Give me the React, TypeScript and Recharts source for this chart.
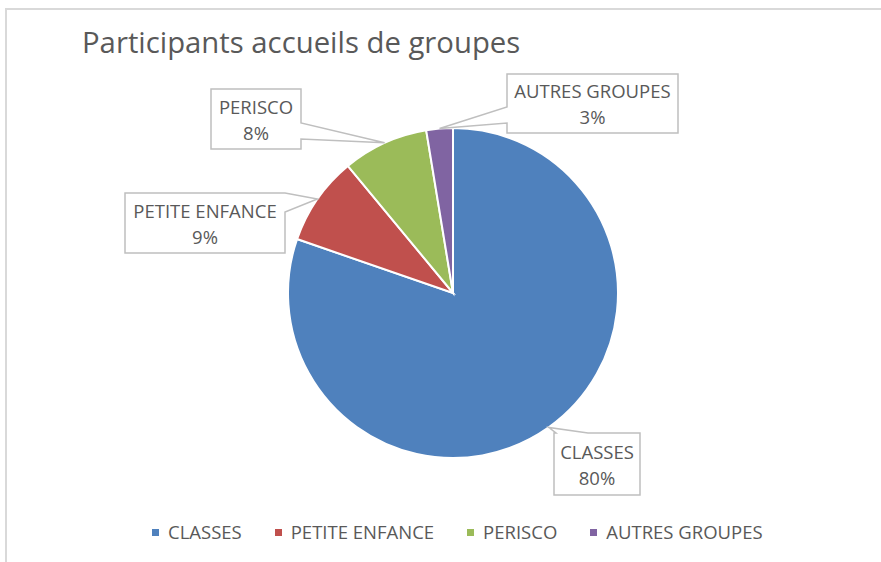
import { PieChart, Pie, Cell, Legend } from 'recharts';

const categories = ['CLASSES', 'PETITE ENFANCE', 'PERISCO', 'AUTRES GROUPES'];
const values = [80.3, 8.7, 8.4, 2.6];
const colors = ['#4f81bd', '#c0504d', '#9bbb59', '#8064a2'];

// callout boxes, relative to the pie centre
const boxes = [
  { dx: 101, dy: 140, w: 86, h: 62, side: 'top', a: 2, b: 34 },
  { dx: -328, dy: -100, w: 160, h: 60, side: 'right', a: 0, b: 19 },
  { dx: -242, dy: -204, w: 90, h: 60, side: 'right', a: 34, b: 50 },
  { dx: 54, dy: -219, w: 171, h: 59, side: 'left', a: 33, b: 49 },
];

const data = categories.map((name, i) => ({ name, value: values[i] }));

const FONT = '"Open Sans", sans-serif';
const TEXT = '#595959';
const RAD = Math.PI / 180;

function calloutPath(x: number, y: number, w: number, h: number, side: string, a: number, b: number, tx: number, ty: number) {
  if (side === 'top')
    return `M${x},${y} L${x + a},${y} L${tx},${ty} L${x + b},${y} L${x + w},${y} L${x + w},${y + h} L${x},${y + h} Z`;
  if (side === 'right')
    return `M${x},${y} L${x + w},${y} L${x + w},${y + a} L${tx},${ty} L${x + w},${y + b} L${x + w},${y + h} L${x},${y + h} Z`;
  return `M${x},${y} L${x + w},${y} L${x + w},${y + h} L${x},${y + h} L${x},${y + b} L${tx},${ty} L${x},${y + a} Z`;
}

const renderLabel = (props: any) => {
  const { cx, cy, midAngle, outerRadius, index, percent, name } = props;
  const box = boxes[index];
  const tx = cx + Math.cos(-midAngle * RAD) * outerRadius;
  const ty = cy + Math.sin(-midAngle * RAD) * outerRadius;
  const x = cx + box.dx;
  const y = cy + box.dy;
  const mx = x + box.w / 2;
  const my = y + box.h / 2;
  return (
    <g>
      <path
        d={calloutPath(x, y, box.w, box.h, box.side, box.a, box.b, tx, ty)}
        fill="#fff"
        stroke="#bfbfbf"
        strokeWidth={1.5}
      />
      <text x={mx} y={my - 13} textAnchor="middle" dominantBaseline="central" fill={TEXT} fontSize={18.5} fontFamily={FONT}>
        {name}
      </text>
      <text x={mx} y={my + 13} textAnchor="middle" dominantBaseline="central" fill={TEXT} fontSize={18.5} fontFamily={FONT}>
        {Math.round(percent * 100)}%
      </text>
    </g>
  );
};

const renderLegend = () => (
  <div style={{ display: 'flex', gap: 33, fontFamily: FONT, fontSize: 18.5, color: TEXT, lineHeight: '24px' }}>
    {categories.map((name, i) => (
      <div key={name} style={{ display: 'flex', alignItems: 'center' }}>
        <span style={{ width: 7, height: 7, background: colors[i], marginRight: 9, display: 'inline-block' }} />
        <span>{name}</span>
      </div>
    ))}
  </div>
);

export default function App() {
  return (
    <div style={{ position: 'absolute', left: 0, top: 0, width: 881, height: 562, background: '#fff', overflow: 'hidden' }}>
      <div
        style={{
          position: 'absolute',
          left: 5,
          top: 8,
          width: 900,
          height: 600,
          borderTop: '2px solid #d9d9d9',
          borderLeft: '2px solid #d9d9d9',
        }}
      />
      <div
        style={{
          position: 'absolute',
          left: 82,
          top: 22,
          fontFamily: FONT,
          fontSize: 29.3,
          color: TEXT,
          whiteSpace: 'nowrap',
          lineHeight: '40px',
        }}
      >
        Participants accueils de groupes
      </div>
      <div style={{ position: 'absolute', left: 0, top: 0 }}>
        <PieChart width={881} height={562} margin={{ top: 0, right: 0, bottom: 0, left: 0 }}>
          <Pie
            data={data}
            dataKey="value"
            nameKey="name"
            cx={453}
            cy={293}
            outerRadius={165}
            startAngle={90}
            endAngle={-270}
            stroke="#fff"
            strokeWidth={2}
            label={renderLabel}
            labelLine={false}
            isAnimationActive={false}
          >
            {data.map((d, i) => (
              <Cell key={d.name} fill={colors[i]} />
            ))}
          </Pie>
          <Legend
            content={renderLegend}
            wrapperStyle={{ position: 'absolute', left: 152, top: 520, width: 'auto' }}
          />
        </PieChart>
      </div>
    </div>
  );
}
